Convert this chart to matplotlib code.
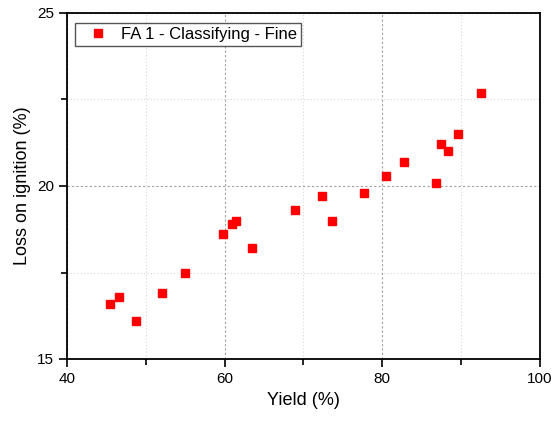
import matplotlib.pyplot as plt
from matplotlib.ticker import MultipleLocator

plt.rcParams['font.family'] = ['Liberation Sans', 'DejaVu Sans']

# yield (%) vs loss on ignition (%)
yield_pct = [45.4, 46.6, 48.8, 52.1, 55.0, 59.8, 60.9, 61.5, 63.5, 68.9,
             72.3, 73.6, 77.7, 80.5, 82.7, 86.8, 87.4, 88.3, 89.6, 92.5]
loi_pct = [16.6, 16.8, 16.1, 16.9, 17.5, 18.6, 18.9, 19.0, 18.2, 19.3,
           19.7, 19.0, 19.8, 20.3, 20.7, 20.1, 21.2, 21.0, 21.5, 22.7]
label = 'FA 1 - Classifying - Fine'

fig = plt.figure(figsize=(5.54, 4.22), dpi=100)
ax = fig.add_axes([67/554, 1 - 359/422, (540-67)/554, (359-13)/422])

ax.plot(yield_pct, loi_pct, 's', color='red', markersize=5.2, label=label, zorder=3)

ax.set_xlim(40, 100)
ax.set_ylim(15, 25)
ax.xaxis.set_major_locator(MultipleLocator(20))
ax.xaxis.set_minor_locator(MultipleLocator(10))
ax.yaxis.set_major_locator(MultipleLocator(5))
ax.yaxis.set_minor_locator(MultipleLocator(2.5))

ax.grid(which='major', color='#a0a0a0', linestyle=(0, (2, 2)), linewidth=0.8)
ax.grid(which='minor', color='#d8d8d8', linestyle=(0, (1, 2)), linewidth=0.8)
ax.set_axisbelow(True)

ax.tick_params(which='both', direction='out', width=1.2, labelsize=11)
ax.tick_params(which='major', length=6)
ax.tick_params(which='minor', length=4)
for s in ax.spines.values():
    s.set_linewidth(1.3)

ax.set_xlabel('Yield (%)', fontsize=13)
ax.set_ylabel('Loss on ignition (%)', fontsize=13)

leg = ax.legend(loc='upper left', fontsize=12, fancybox=False, framealpha=1,
                edgecolor='#555555', borderpad=0.25, handletextpad=0.2,
                handlelength=2.3, borderaxespad=0,
                bbox_to_anchor=(0.017, 0.971))
leg.get_frame().set_linewidth(1.0)

fig.savefig('out.png', dpi=100)
